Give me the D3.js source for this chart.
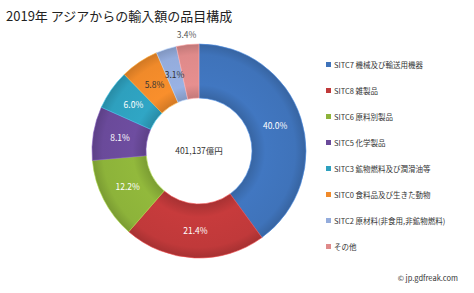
<!DOCTYPE html>
<html>
<head>
<meta charset="utf-8">
<script src="https://cdn.jsdelivr.net/npm/d3@7/dist/d3.min.js"></script>
<style>
body { margin: 0; background: #fff; }
text { font-family: "Noto Sans CJK JP", "DejaVu Sans", sans-serif; }
</style>
</head>
<body>
<svg id="chart" width="474" height="293"></svg>
<script>
var categories = ['SITC7 機械及び輸送用機器', 'SITC8 雑製品', 'SITC6 原料別製品', 'SITC5 化学製品',
	'SITC3 鉱物燃料及び潤滑油等', 'SITC0 食料品及び生きた動物', 'SITC2 原材料(非食用,非鉱物燃料)', 'その他'];
var shares = [40.0, 21.4, 12.2, 8.1, 6.0, 5.8, 3.1, 3.4];
var colors = ['#3f73ba', '#c0393a', '#8db33a', '#6a4a9a', '#2ea0be', '#f08a2a', '#94acdc', '#df8a8a'];
var labelColors = ['#fff', '#fff', '#fff', '#fff', '#fff', '#333', '#333', '#555'];
var title = '2019年 アジアからの輸入額の品目構成';
var total = '401,137億円';

var svg = d3.select('#chart');
var cx = 199, cy = 151, rOuter = 107, rInner = 53;

svg.append('text')
	.attr('x', 6).attr('y', 21)
	.attr('font-size', 13).attr('fill', '#222')
	.text(title);

// slight shading like the original
var defs = svg.append('defs');
colors.forEach(function(c, i) {
	var grad = defs.append('radialGradient')
		.attr('id', 'grad' + i)
		.attr('gradientUnits', 'userSpaceOnUse')
		.attr('cx', 0).attr('cy', 0).attr('r', rOuter);
	grad.append('stop').attr('offset', '0.5').attr('stop-color', d3.color(c).darker(0.35));
	grad.append('stop').attr('offset', '0.62').attr('stop-color', d3.color(c).brighter(0.1));
	grad.append('stop').attr('offset', '0.9').attr('stop-color', c);
	grad.append('stop').attr('offset', '1').attr('stop-color', d3.color(c).darker(0.4));
});

var pie = d3.pie().sort(null).value(function(d) { return d; });
var arc = d3.arc().innerRadius(rInner).outerRadius(rOuter);
var arcs = pie(shares);

var g = svg.append('g').attr('transform', 'translate(' + cx + ',' + cy + ')');

g.selectAll('path.slice')
	.data(arcs)
	.enter().append('path')
	.attr('class', 'slice')
	.attr('d', arc)
	.attr('fill', function(d, i) { return 'url(#grad' + i + ')'; })
	.attr('stroke', function(d, i) { return d3.color(colors[i]).brighter(0.6); })
	.attr('stroke-width', 0.6);

var labelArc = d3.arc().innerRadius((rInner + rOuter) / 2).outerRadius((rInner + rOuter) / 2);
var outerArc = d3.arc().innerRadius(rOuter + 10).outerRadius(rOuter + 10);

g.selectAll('text.pct')
	.data(arcs)
	.enter().append('text')
	.attr('class', 'pct')
	.attr('transform', function(d, i) {
		var p = (i === 7) ? outerArc.centroid(d) : labelArc.centroid(d);
		return 'translate(' + p + ')';
	})
	.attr('text-anchor', 'middle')
	.attr('dy', '0.35em')
	.attr('font-size', 8.5)
	.attr('fill', function(d, i) { return labelColors[i]; })
	.text(function(d) { return d3.format('.1f')(d.data) + '%'; });

g.append('text')
	.attr('text-anchor', 'middle')
	.attr('dy', '0.35em')
	.attr('font-size', 8.5)
	.attr('fill', '#333')
	.text(total);

var legend = svg.append('g').attr('transform', 'translate(326,65)');
var rows = legend.selectAll('g')
	.data(categories)
	.enter().append('g')
	.attr('transform', function(d, i) { return 'translate(0,' + (i * 26) + ')'; });
rows.append('rect')
	.attr('x', 0).attr('y', -3)
	.attr('width', 5).attr('height', 5)
	.attr('fill', function(d, i) { return colors[i]; });
rows.append('text')
	.attr('x', 8).attr('dy', '0.35em')
	.attr('font-size', 7.5)
	.attr('fill', '#333')
	.text(function(d) { return d; });

svg.append('text')
	.attr('x', 458).attr('y', 281)
	.attr('text-anchor', 'end')
	.attr('font-size', 7.5)
	.attr('fill', '#333')
	.text('© jp.gdfreak.com');
</script>
</body>
</html>
